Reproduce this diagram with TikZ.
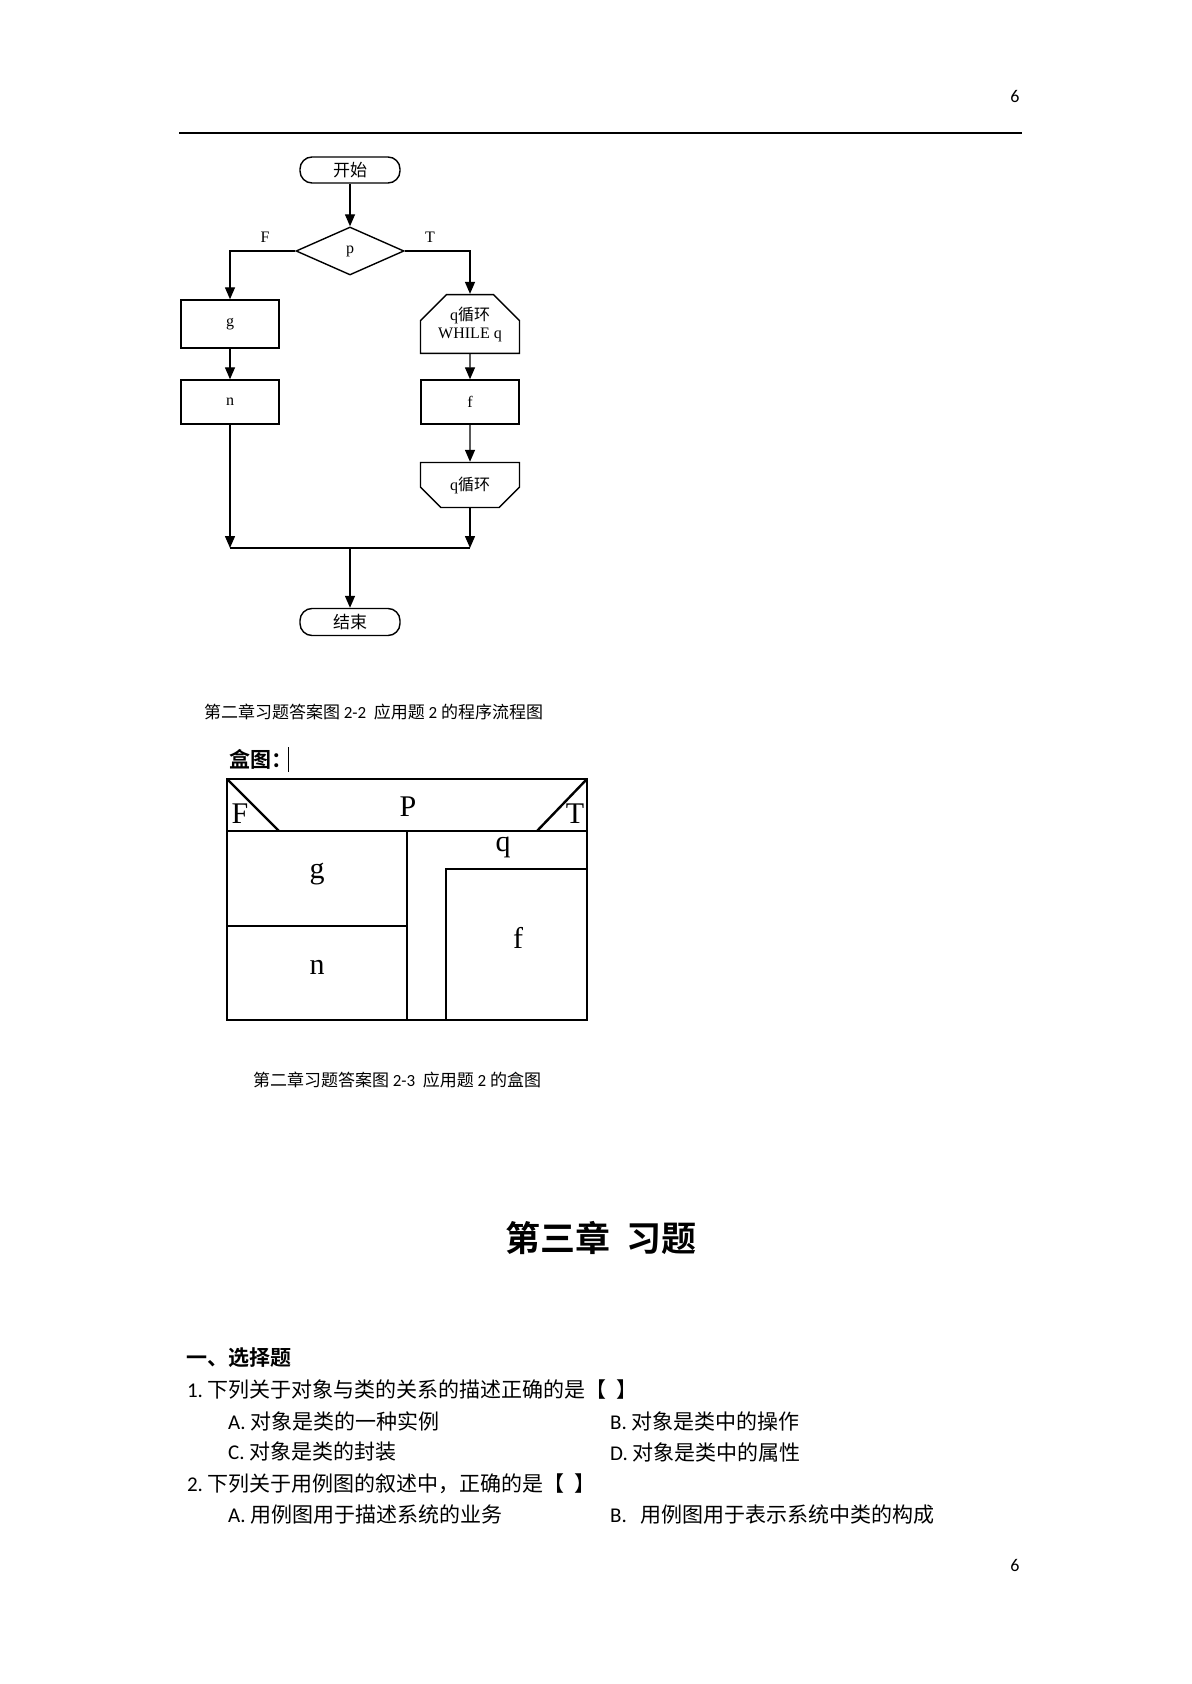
\documentclass[tikz,border=0pt]{standalone}
\usepackage{fontspec}
\setmainfont{Liberation Serif}
\newfontfamily\cjk{Noto Sans CJK SC}
\newfontfamily\cjkb{Noto Sans CJK SC}[BoldFont={Noto Sans CJK SC Bold}]
\newfontfamily\calf{Carlito}
\usetikzlibrary{arrows.meta,shapes.geometric,shapes.misc}
\begin{document}
\begin{tikzpicture}[x=0.5pt,y=-0.5pt,
  fl/.style={draw,line width=0.7pt,font=\fontsize{8}{9}\selectfont,align=center,inner sep=0pt},
  box/.style={fl,rectangle,minimum width=49pt,minimum height=24pt},
  ar/.style={line width=0.7pt,-{Triangle[length=6pt,width=5pt]}},
  ln/.style={line width=0.7pt},
  bx/.style={line width=1.2pt},
  big/.style={font=\fontsize{15}{15}\selectfont},
  body/.style={anchor=west,font=\cjk\fontsize{10.5}{12}\selectfont},
  capt/.style={anchor=west,font=\cjk\fontsize{8.5}{10}\selectfont}]
\useasboundingbox (0,0) rectangle (1191,1684);
\node[font=\calf\fontsize{9}{10}\selectfont] (pn1) at (1015,96) {6};
\node[font=\calf\fontsize{9}{10}\selectfont] (pn2) at (1015,1565) {6};
\coordinate (hl) at (179,133); \coordinate (hr) at (1022,133);
\draw[line width=0.8pt] (hl) -- (hr);
% flowchart
\node[fl,rounded corners=6pt,minimum width=50pt,minimum height=13pt,font=\cjk\fontsize{8.5}{9}\selectfont] (st) at (350,170) {开始};
\node[fl,diamond,aspect=2.25,minimum width=54pt,minimum height=24pt] (p) at (350,251) {p};
\node[font=\fontsize{8}{9}\selectfont] (F) at (265,237) {F};
\node[font=\fontsize{8}{9}\selectfont] (T) at (430,237) {T};
\node[box] (g) at (230,324) {g};
\node[fl,chamfered rectangle,chamfered rectangle corners={north west,north east},chamfered rectangle xsep=7pt,chamfered rectangle ysep=6pt,minimum width=49.5pt,minimum height=24pt] (ql) at (470,324) {q{\cjk 循环}\\WHILE q};
\node[box,minimum height=22pt] (n) at (230,402) {n};
\node[box,minimum height=22pt] (f) at (470,402) {f};
\node[fl,chamfered rectangle,chamfered rectangle corners={south west,south east},chamfered rectangle xsep=7pt,chamfered rectangle ysep=6pt,minimum width=49.5pt,minimum height=22.5pt] (qe) at (470,485) {q{\cjk 循环}};
\coordinate (jl) at (230,548); \coordinate (jr) at (470,548); \coordinate (jm) at (350,548);
\node[fl,rounded corners=6pt,minimum width=50pt,minimum height=13.5pt,font=\cjk\fontsize{8.5}{9}\selectfont] (en) at (350,622) {结束};
\draw[ar] (st) -- (p);
\draw[ar] (p.west) -| (g.north);
\draw[ar] (p.east) -| (ql.north);
\draw[ar] (g) -- (n);
\draw[ar] (ql) -- (f);
\draw[ar] (f) -- (qe);
\draw[ar] (n.south) -- (jl);
\draw[ar] (qe.south) -- (jr);
\draw[ln] (jl) -- (jr);
\draw[ar] (jm) -- (en);
\node[capt] (c1) at (197,712) {第二章习题答案图 {\calf 2-2}\ \ 应用题 {\calf 2} 的程序流程图};
% box diagram
\node[anchor=west,font=\cjkb\bfseries\fontsize{10.5}{12}\selectfont] (hz) at (222,759) {盒图：};
\coordinate (cu1) at (288,747); \coordinate (cu2) at (288,772);
\draw[line width=0.5pt] (cu1) -- (cu2);
\coordinate (o1) at (227,779); \coordinate (o2) at (587,1020);
\draw[bx] (o1) rectangle (o2);
\coordinate (h1) at (227,831); \coordinate (h2) at (587,831);
\draw[bx] (h1) -- (h2);
\coordinate (fd) at (279,831); \coordinate (tr) at (587,779); \coordinate (td) at (537,831);
\draw[bx] (o1) -- (fd);
\draw[bx] (tr) -- (td);
\coordinate (v1) at (407,831); \coordinate (v2) at (407,1020);
\draw[bx] (v1) -- (v2);
\coordinate (s1) at (227,926); \coordinate (s2) at (407,926);
\draw[bx] (s1) -- (s2);
\coordinate (q1) at (446,869); \coordinate (q2) at (587,869); \coordinate (q3) at (446,1020);
\draw[bx] (q3) -- (q1) -- (q2);
\node[big] (P) at (408,807) {P};
\node[big] (Fb) at (240,814) {F};
\node[big] (Tb) at (575,814) {T};
\node[big] (qb) at (503,847) {q};
\node[big] (gb) at (317,874) {g};
\node[big] (nb) at (317,967) {n};
\node[big] (fb) at (518,938) {f};
\node[capt] (c2) at (246,1080) {第二章习题答案图 {\calf 2-3}\ \ 应用题 {\calf 2} 的盒图};
% text
\node[font=\cjkb\bfseries\fontsize{17.5}{20}\selectfont] (ti) at (601,1238) {第三章\ \ 习题};
\node[anchor=west,font=\cjkb\bfseries\fontsize{10.5}{12}\selectfont] (sec) at (179,1358) {一、选择题};
\node[body] (q1t) at (180,1390) {{\calf 1.}\ 下列关于对象与类的关系的描述正确的是【\ \ 】};
\node[body] (a1) at (221,1421) {{\calf A.}\ 对象是类的一种实例};
\node[body] (b1) at (603,1421) {{\calf B.}\ 对象是类中的操作};
\node[body] (c1o) at (221,1452) {{\calf C.}\ 对象是类的封装};
\node[body] (d1) at (603,1452) {{\calf D.}\ 对象是类中的属性};
\node[body] (q2t) at (180,1484) {{\calf 2.}\ 下列关于用例图的叙述中，正确的是【\ \ 】};
\node[body] (a2) at (221,1515) {{\calf A.}\ 用例图用于描述系统的业务};
\node[body] (b2) at (603,1515) {{\calf B.}\ \ \ 用例图用于表示系统中类的构成};
\end{tikzpicture}
\end{document}
